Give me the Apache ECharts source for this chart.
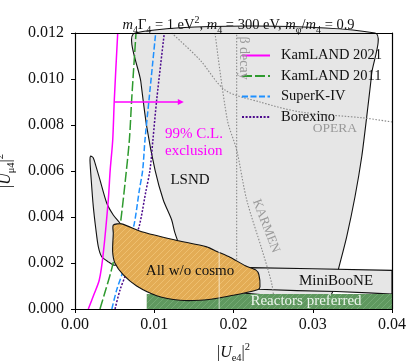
<!DOCTYPE html>
<html>
<head>
<meta charset="utf-8">
<script src="https://cdn.jsdelivr.net/npm/echarts@6/dist/echarts.min.js"></script>
<style>
  html, body { margin: 0; padding: 0; background: #fff; }
  #chart { width: 408px; height: 364px; }
</style>
</head>
<body>
<div id="chart"></div>
<script>
const FONT = '"Liberation Serif", "DejaVu Serif", serif';

// tick labels
const xTickLabels = ['0.00', '0.01', '0.02', '0.03', '0.04'];
const yTickLabels = ['0.000', '0.002', '0.004', '0.006', '0.008', '0.010', '0.012'];

// 99% C.L. exclusion curves, [|Ue4|^2, |Umu4|^2]
const kamland2021 = [[0.00168, 0], [0.00235, 0.0006], [0.00307, 0.00127], [0.00357, 0.00243],
  [0.0042, 0.00474], [0.00444, 0.00604], [0.00476, 0.00735], [0.00496, 0.0091], [0.00539, 0.012]];
const kamland2011 = [[0.00315, 0], [0.0038, 0.00075], [0.0046, 0.0017], [0.0053, 0.0028],
  [0.00576, 0.0038], [0.00631, 0.00546], [0.00686, 0.00735], [0.00715, 0.0091], [0.0077, 0.012]];
const superK4 = [[0.00465, 0], [0.00526, 0.00083], [0.0061, 0.0017], [0.0068, 0.0028],
  [0.00749, 0.00373], [0.00812, 0.00517], [0.00854, 0.00604], [0.00883, 0.00735], [0.00934, 0.0091], [0.01018, 0.012]];
const borexino = [[0.00505, 0], [0.00568, 0.00083], [0.0066, 0.0017], [0.0074, 0.0028],
  [0.0082, 0.00374], [0.0089, 0.00504], [0.00946, 0.00604], [0.00983, 0.00735], [0.01031, 0.0091], [0.01127, 0.012]];

// regions
const lsndMain = [[0.00757, 0.012], [0.0083, 0.0099], [0.00905, 0.00793], [0.0101, 0.00604],
  [0.01114, 0.00474], [0.0122, 0.00387], [0.01262, 0.0033], [0.0135, 0.0026], [0.02, 0.0008],
  [0.0322, 0.0006], [0.03259, 0.00083], [0.03322, 0.0017], [0.03428, 0.00314], [0.03533, 0.00488],
  [0.03618, 0.00662], [0.03681, 0.00836], [0.03744, 0.01025], [0.03786, 0.012]];
const lsndIsland = [[0.00198, 0.00665], [0.00231, 0.00657], [0.00265, 0.0062], [0.00315, 0.00561],
  [0.004, 0.00461], [0.00483, 0.00409], [0.00568, 0.00373], [0.0065, 0.0033], [0.0065, 0.0022],
  [0.00505, 0.0019], [0.0042, 0.00205], [0.00337, 0.00227], [0.00294, 0.00271], [0.00262, 0.0035],
  [0.00231, 0.00445], [0.00205, 0.0056], [0.00189, 0.00648]];
const miniBooNE = [[0.022, 0.0018], [0.03, 0.00175], [0.04, 0.00168], [0.04, 0.00065],
  [0.037, 0.0007], [0.033, 0.00076], [0.028, 0.0008], [0.0232, 0.00086]];
const reactorsPreferred = [[0.00905, 0], [0.04, 0], [0.04, 0.00065], [0.00905, 0.00065]];
const allNoCosmo = [[0.00483, 0.00365], [0.00589, 0.0037], [0.00842, 0.00336], [0.01262, 0.003],
  [0.01662, 0.0027], [0.0179, 0.0025], [0.01956, 0.00225], [0.0215, 0.00188], [0.0228, 0.0017],
  [0.0232, 0.0015], [0.02334, 0.00097], [0.0231, 0.00085], [0.02166, 0.00072], [0.0183, 0.00049],
  [0.01577, 0.00038], [0.01325, 0.00038], [0.01031, 0.00058], [0.00778, 0.001], [0.0061, 0.00148],
  [0.00505, 0.00199], [0.00475, 0.00249], [0.00483, 0.00329]];
const cosmoSeam = [[0.0182, 0], [0.0182, 0.0026]];

// other bounds (grey dotted)
const betaDecay = [[0.0204, 0], [0.0204, 0.012]];
const karmen = [[0.01767, 0.012], [0.01922, 0.00822], [0.0204, 0.00691], [0.02167, 0.00474],
  [0.0236, 0.00257], [0.02486, 0.00104], [0.0252, 0]];
const opera = [[0.0122, 0.012], [0.01577, 0.01083], [0.01893, 0.00952], [0.02334, 0.009],
  [0.0284, 0.00857], [0.0366, 0.0083], [0.04, 0.00813]];
const exclusionArrow = [[0.00505, 0.009], [0.01335, 0.009]];

// annotations
const annotations = [
  { key: 'excl', text: '99% C.L.\nexclusion', pos: [0.01136, 0.00724] },
  { key: 'black', text: 'LSND', pos: [0.01451, 0.00561] },
  { key: 'black', text: 'All w/o cosmo', pos: [0.01451, 0.00163] },
  { key: 'black', text: 'MiniBooNE', pos: [0.03293, 0.0012] },
  { key: 'reactor', text: 'Reactors preferred', pos: [0.02915, 0.00035] },
  { key: 'opera', text: 'OPERA', pos: [0.0328, 0.00787] },
  { key: 'beta', text: 'β decay', pos: [0.02132, 0.01091] },
  { key: 'karmen', text: 'KARMEN', pos: [0.0241, 0.00361] },
];

const annotationStyle = {
  excl: { color: '#ff00ff', size: 15, align: 'left', lineHeight: 17 },
  black: { color: '#111', size: 15 },
  reactor: { color: '#eef5ee', size: 15 },
  opera: { color: '#999', size: 13.5 },
  beta: { color: '#999', size: 14, rotate: -90 },
  karmen: { color: '#999', size: 13, rotate: -69 },
};

function hatch(base, stripe) {
  const c = document.createElement('canvas');
  c.width = 6;
  c.height = 6;
  const ctx = c.getContext('2d');
  ctx.fillStyle = base;
  ctx.fillRect(0, 0, 6, 6);
  ctx.strokeStyle = stripe;
  ctx.lineWidth = 1;
  ctx.beginPath();
  ctx.moveTo(0, 6); ctx.lineTo(6, 0);
  ctx.moveTo(-1, 1); ctx.lineTo(1, -1);
  ctx.moveTo(5, 7); ctx.lineTo(7, 5);
  ctx.stroke();
  return { image: c, repeat: 'repeat' };
}

function region(pts, style, z, smooth) {
  return {
    type: 'custom',
    z,
    silent: true,
    data: pts,
    renderItem: (params, api) => {
      if (params.dataIndex !== 0) return;
      const points = pts.map((p) => api.coord(p));
      return { type: 'polygon', shape: { points, smooth: smooth || 0 }, style };
    },
  };
}

function curve(name, pts, color, width, type, z, smooth) {
  return {
    type: 'line',
    name,
    data: pts,
    z,
    silent: true,
    symbol: 'none',
    smooth: smooth || 0,
    lineStyle: { color, width, type },
    itemStyle: { color },
  };
}

const outline = { stroke: '#111', lineWidth: 1.1 };

const series = [
  region(lsndMain, { fill: '#e6e6e6', ...outline }, 1, 0.25),
  region(lsndIsland, { fill: '#e6e6e6', ...outline }, 1, 0.25),
  region(miniBooNE, { fill: '#e6e6e6', ...outline }, 2, 0),
  curve('', betaDecay, '#8a8a8a', 1.1, [1.5, 1.6], 3),
  curve('', karmen, '#8a8a8a', 1.1, [1.5, 1.6], 3, 0.3),
  curve('', opera, '#8a8a8a', 1.1, [1.5, 1.6], 3, 0.3),
  curve('KamLAND 2021', kamland2021, '#ff00ff', 1.5, 'solid', 5, 0.3),
  curve('KamLAND 2011', kamland2011, '#2e9a2e', 1.5, [10, 3], 5, 0.3),
  curve('SuperK-IV', superK4, '#1e90ff', 1.5, [6, 2.5], 5, 0.3),
  curve('Borexino', borexino, '#4b0a8c', 1.5, [2, 1.6], 5, 0.3),
  region(reactorsPreferred, { fill: hatch('#5f985f', '#74aa74') }, 6, 0),
  region(allNoCosmo, { fill: hatch('#e3ac55', '#eebf6f'), ...outline }, 7, 0.25),
  curve('', cosmoSeam, 'rgba(255,255,255,0.45)', 1.5, 'solid', 8),
  {
    type: 'line',
    data: [
      { value: exclusionArrow[0], symbol: 'none' },
      { value: exclusionArrow[1], symbol: 'triangle', symbolRotate: -90, symbolSize: [6, 6] },
    ],
    z: 9,
    silent: true,
    showSymbol: true,
    lineStyle: { color: '#ff00ff', width: 1.3 },
    itemStyle: { color: '#ff00ff' },
  },
  {
    type: 'custom',
    z: 20,
    silent: true,
    data: annotations.map((a) => a.pos),
    renderItem: (params, api) => {
      const a = annotations[params.dataIndex];
      const st = annotationStyle[a.key];
      const p = api.coord(a.pos);
      return {
        type: 'text',
        x: p[0],
        y: p[1],
        rotation: ((st.rotate || 0) * Math.PI) / 180,
        style: {
          text: a.text,
          fill: st.color,
          fontSize: st.size,
          fontFamily: FONT,
          align: st.align || 'center',
          verticalAlign: 'middle',
          lineHeight: st.lineHeight || st.size * 1.2,
        },
      };
    },
  },
];

const sub = { fontSize: 10.5, fontFamily: FONT, verticalAlign: 'bottom', lineHeight: 12 };
const sup = { fontSize: 10.5, fontFamily: FONT, verticalAlign: 'top', lineHeight: 12 };
const ital = { fontStyle: 'italic', fontFamily: FONT };

const frameLine = { show: true, onZero: false, lineStyle: { color: '#000', width: 1.2 } };

const option = {
  animation: false,
  backgroundColor: '#fff',
  title: {
    text: '{i|m}{s|4}Γ{s|4} = 1 eV{p|2}, {i|m}{s|4} = 300 eV, {i|m}{s|φ}/{i|m}{s|4} = 0.9',
    left: 233.5,
    top: 10,
    textAlign: 'center',
    textStyle: {
      fontFamily: FONT,
      fontSize: 14.5,
      fontWeight: 'normal',
      color: '#111',
      lineHeight: 20,
      rich: {
        i: { ...ital, fontSize: 14.5, lineHeight: 20 },
        s: { ...sub, fontSize: 10, lineHeight: 11 },
        p: { ...sup, fontSize: 10, lineHeight: 11 },
      },
    },
  },
  legend: {
    data: ['KamLAND 2021', 'KamLAND 2011', 'SuperK-IV', 'Borexino'],
    orient: 'vertical',
    left: 236,
    top: 43,
    itemWidth: 28,
    itemHeight: 14,
    itemGap: 5.5,
    selectedMode: false,
    itemStyle: { opacity: 0 },
    textStyle: {
      fontFamily: FONT,
      fontSize: 14.5,
      color: '#111',
      lineHeight: 14,
      padding: [0, 0, 0, 6],
    },
  },
  grid: { left: 75, right: 16, top: 33, bottom: 55, containLabel: false, outerBoundsMode: 'none' },
  xAxis: [
    {
      type: 'value',
      min: 0,
      max: 0.04,
      interval: 0.01,
      position: 'bottom',
      z: 30,
      axisLine: frameLine,
      axisTick: { show: true, length: 4, lineStyle: { color: '#000' } },
      axisLabel: {
        formatter: (v) => xTickLabels[Math.round(v / 0.01)],
        margin: 8,
        color: '#111',
        fontFamily: FONT,
        fontSize: 16,
      },
      splitLine: { show: false },
      name: '|{i|U}{s|e4}|{p|2}',
      nameLocation: 'middle',
      nameGap: 33,
      nameTextStyle: {
        fontFamily: FONT,
        fontSize: 16,
        color: '#111',
        lineHeight: 22,
        rich: {
          i: { ...ital, fontSize: 16, lineHeight: 22 },
          s: { ...sub },
          p: { ...sup },
        },
      },
    },
    {
      type: 'value',
      min: 0,
      max: 0.04,
      position: 'top',
      z: 30,
      axisLine: frameLine,
      axisTick: { show: false },
      axisLabel: { show: false },
      splitLine: { show: false },
    },
  ],
  yAxis: [
    {
      type: 'value',
      min: 0,
      max: 0.012,
      interval: 0.002,
      position: 'left',
      z: 30,
      axisLine: frameLine,
      axisTick: { show: true, length: 4, lineStyle: { color: '#000' } },
      axisLabel: {
        formatter: (v) => yTickLabels[Math.round(v / 0.002)],
        margin: 11,
        color: '#111',
        fontFamily: FONT,
        fontSize: 16,
      },
      splitLine: { show: false },
      name: '|{i|U}{s|μ4}|{p|2}',
      nameLocation: 'middle',
      nameRotate: 90,
      nameGap: 46,
      nameTextStyle: {
        fontFamily: FONT,
        fontSize: 16,
        color: '#111',
        lineHeight: 22,
        rich: {
          i: { ...ital, fontSize: 16, lineHeight: 22 },
          s: { ...sub },
          p: { ...sup },
        },
      },
    },
    {
      type: 'value',
      min: 0,
      max: 0.012,
      position: 'right',
      z: 30,
      axisLine: frameLine,
      axisTick: { show: false },
      axisLabel: { show: false },
      splitLine: { show: false },
    },
  ],
  series,
};

const chart = echarts.init(document.getElementById('chart'));
chart.setOption(option);
</script>
</body>
</html>
